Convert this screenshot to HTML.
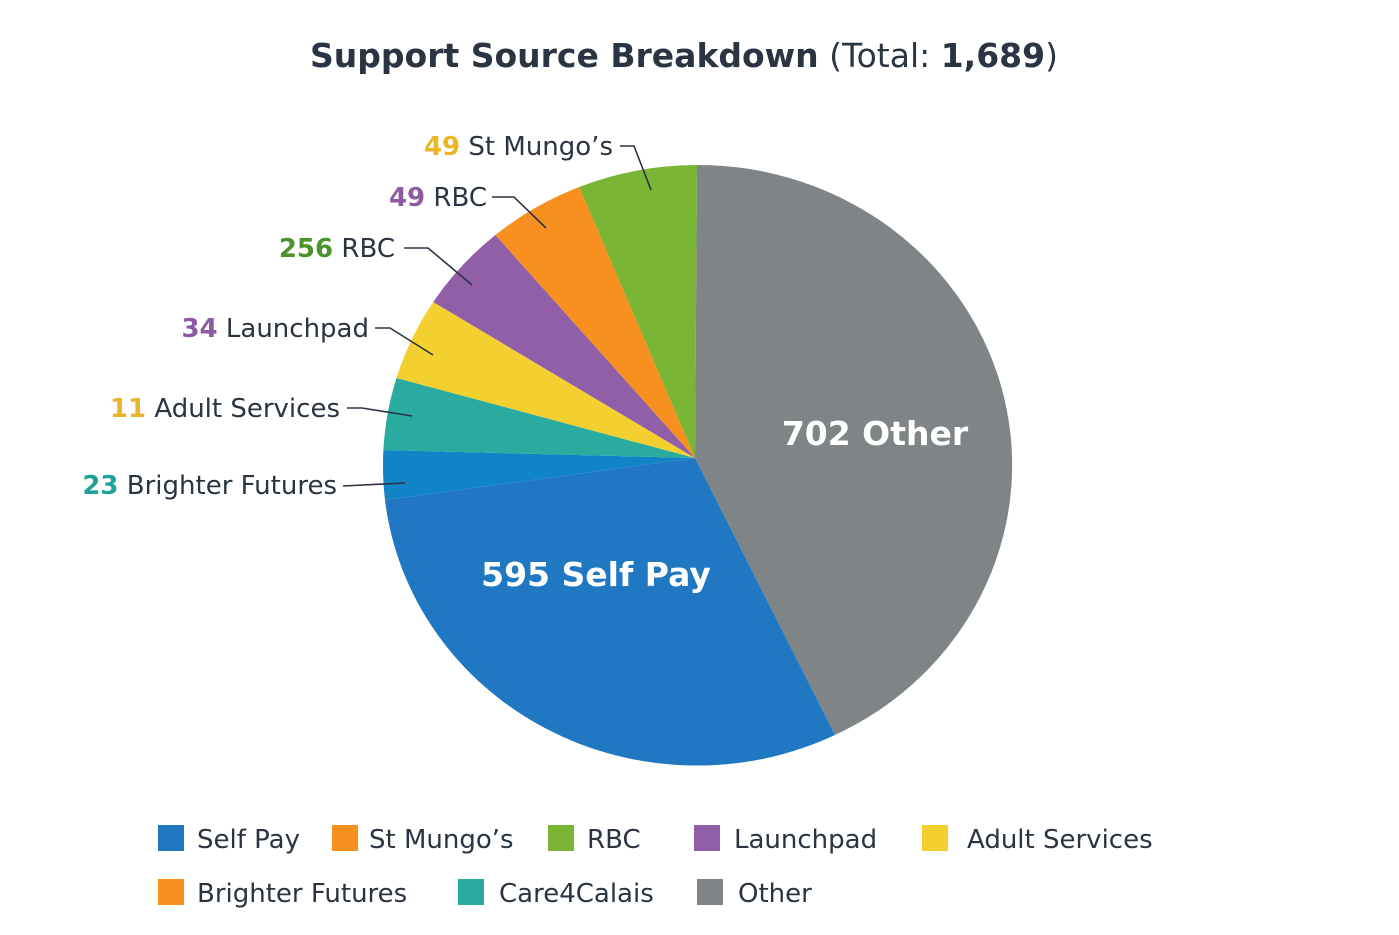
<!DOCTYPE html>
<html><head><meta charset="utf-8"><style>
body{margin:0;background:#fff;}
svg{display:block;font-family:"DejaVu Sans","Liberation Sans",sans-serif;}
</style></head><body>
<svg width="1399" height="935" viewBox="0 0 1399 935">
<text x="684" y="67" text-anchor="middle" font-size="33" fill="#2b3442"><tspan font-weight="bold">Support Source Breakdown</tspan> (Total: <tspan font-weight="bold">1,689</tspan>)</text>
<g>
<path d="M695,458 L697,165 A314,300 0 0 1 835,735 Z" fill="#7f8487"/>
<path d="M695,458 L835,735 A314,300 0 0 1 385,500 Z" fill="#1f78c1"/>
<path d="M695,458 L385,500 A314,300 0 0 1 383.4,450 Z" fill="#1184c6"/>
<path d="M695,458 L383.4,450 A314,300 0 0 1 396.5,378 Z" fill="#2aab9f"/>
<path d="M695,458 L396.5,378 A314,300 0 0 1 433.2,302 Z" fill="#f3d02f"/>
<path d="M695,458 L433.2,302 A314,300 0 0 1 495.4,235 Z" fill="#905fa8"/>
<path d="M695,458 L495.4,235 A314,300 0 0 1 579.2,187 Z" fill="#f7901e"/>
<path d="M695,458 L579.2,187 A314,300 0 0 1 697,165 Z" fill="#7ab535"/>
</g>
<text x="875" y="445" text-anchor="middle" font-size="33" font-weight="bold" fill="#fff">702  Other</text>
<text x="596" y="586" text-anchor="middle" font-size="33" font-weight="bold" fill="#fff">595  Self Pay</text>
<g fill="none" stroke="#2b3442" stroke-width="1.6">
<polyline points="620,146 634,146 651,190"/>
<polyline points="492,197 514,197 546,228"/>
<polyline points="404,248 428,248 472,285"/>
<polyline points="375,328 390,328 433,355"/>
<polyline points="347,408 362,408 412,416"/>
<polyline points="343,486 405,483"/>
</g>
<g font-size="26" fill="#2b3442">
<text x="613" y="155" text-anchor="end"><tspan fill="#eab527" font-weight="bold">49</tspan> St Mungo’s</text>
<text x="487" y="206" text-anchor="end"><tspan fill="#8e5aa6" font-weight="bold">49</tspan> RBC</text>
<text x="395" y="257" text-anchor="end"><tspan fill="#4c922d" font-weight="bold">256</tspan> RBC</text>
<text x="369" y="337" text-anchor="end"><tspan fill="#8e5aa6" font-weight="bold">34</tspan> Launchpad</text>
<text x="340" y="417" text-anchor="end"><tspan fill="#eab527" font-weight="bold">11</tspan> Adult Services</text>
<text x="337" y="494" text-anchor="end"><tspan fill="#1ea497" font-weight="bold">23</tspan> Brighter Futures</text>
</g>
<g font-size="26" fill="#2b3442">
<rect x="158" y="825" width="26" height="26" fill="#1f78c1"/><text x="197" y="848">Self Pay</text>
<rect x="332" y="825" width="26" height="26" fill="#f7901e"/><text x="369" y="848">St Mungo’s</text>
<rect x="548" y="825" width="26" height="26" fill="#7ab535"/><text x="587" y="848">RBC</text>
<rect x="694" y="825" width="26" height="26" fill="#905fa8"/><text x="734" y="848">Launchpad</text>
<rect x="922" y="825" width="26" height="26" fill="#f3d02f"/><text x="967" y="848">Adult Services</text>
<rect x="158" y="879" width="26" height="26" fill="#f7901e"/><text x="197" y="902">Brighter Futures</text>
<rect x="458" y="879" width="26" height="26" fill="#2aab9f"/><text x="499" y="902">Care4Calais</text>
<rect x="697" y="879" width="26" height="26" fill="#7f8487"/><text x="738" y="902">Other</text>
</g>
</svg>
</body></html>
